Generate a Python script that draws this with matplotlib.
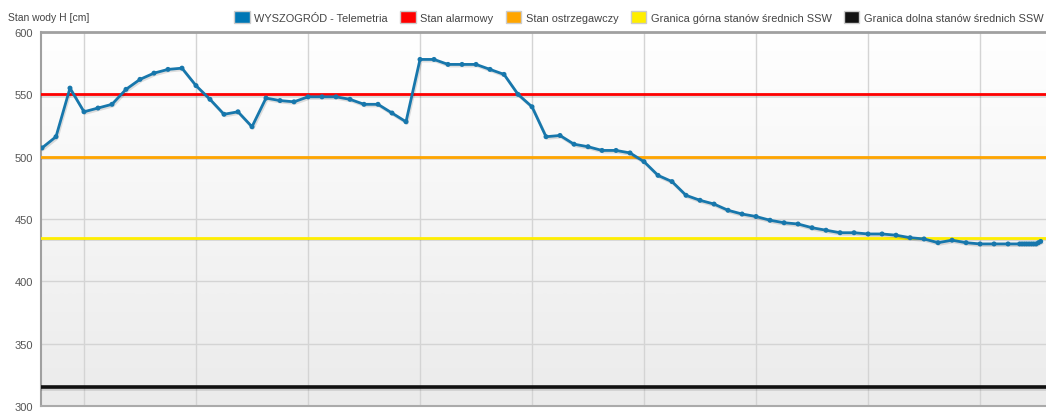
import numpy as np
import matplotlib
matplotlib.use('Agg')
import matplotlib.pyplot as plt
import matplotlib.patheffects as pe
from matplotlib.patches import Rectangle

plt.rcParams['font.family'] = ['Liberation Sans', 'DejaVu Sans']

# hourly readings (index = hour), then the 10-minute readings at the end
level_hourly = [507, 516, 555, 536, 539, 542, 554, 562, 567, 570,
                571, 557, 546, 534, 536, 524, 547, 545, 544, 548,
                548, 548, 546, 542, 542, 535, 528, 578, 578, 574,
                574, 574, 570, 566, 550, 540, 516, 517, 510, 508,
                505, 505, 503, 496, 485, 480, 469, 465, 462, 457,
                454, 452, 449, 447, 446, 443, 441, 439, 439, 438,
                438, 437, 435, 434, 431, 433, 431, 430, 430, 430]
tail_hours = [69.83, 70.0, 70.17, 70.33, 70.5, 70.67, 70.83, 71.0, 71.17, 71.33]
tail_level = [430, 430, 430, 430, 430, 430, 430, 430, 431, 432]

hours = list(range(len(level_hourly))) + tail_hours
level = level_hourly + tail_level

series_name = 'WYSZOGRÓD - Telemetria'
thresholds = [
    ('Stan alarmowy', 550, '#ff0000', 2.0),
    ('Stan ostrzegawczy', 500, '#ffa500', 2.0),
    ('Granica górna stanów średnich SSW', 435, '#ffee00', 2.0),
    ('Granica dolna stanów średnich SSW', 315, '#111111', 2.6),
]
y_ticks = [300, 350, 400, 450, 500, 550, 600]
x_grid = [3, 11, 19, 27, 35, 43, 51, 59, 67]

W, H = 1046, 414
fig = plt.figure(figsize=(W / 100, H / 100), dpi=100)
fig.patch.set_facecolor('white')
ax = fig.add_axes([41 / W, 1 - 407 / H, 1 - 41 / W, (407 - 33) / H])

# background gradient
grad = np.linspace(1.0, 0.0, 256).reshape(-1, 1)
cmap = matplotlib.colors.LinearSegmentedColormap.from_list('bg', ['#ebebeb', '#ffffff'])
ax.imshow(grad, aspect='auto', cmap=cmap, extent=[0, 1, 0, 1], transform=ax.transAxes,
          origin='upper', zorder=0, interpolation='bicubic')

ax.set_xlim(-0.07, 71.71)
ax.set_ylim(300, 600)
ax.set_yticks(y_ticks)
ax.set_xticks(x_grid)
ax.set_xticklabels([])
ax.tick_params(axis='both', length=0)
ax.tick_params(axis='y', pad=6, labelsize=8, labelcolor='#555555')
ax.grid(True, color='#d4d4d4', linewidth=1, zorder=1)

shadow = [pe.SimpleLineShadow(offset=(0.8, -1.2), shadow_color='#000000', alpha=0.12), pe.Normal()]

for name, val, col, lw in thresholds:
    ax.axhline(val, color=col, linewidth=lw, zorder=3, path_effects=shadow)

ax.plot(hours, level, color='#1777ac', linewidth=2.0, marker='o', markersize=3.6,
        markeredgewidth=0, zorder=4, path_effects=shadow)

ax.spines['right'].set_visible(False)
ax.spines['top'].set_color('#a0a0a0')
ax.spines['top'].set_linewidth(2)
ax.spines['left'].set_color('#a0a0a0')
ax.spines['left'].set_linewidth(1.5)
ax.spines['bottom'].set_color('#aaaaaa')
ax.spines['bottom'].set_linewidth(1.5)

fig.text(8 / W, 1 - 18 / H, 'Stan wody H [cm]', fontsize=7.5, color='#444444', va='center')

handles = [Rectangle((0, 0), 1, 1, facecolor='#0077b5', edgecolor='#cccccc', linewidth=1)]
labels = [series_name]
for name, val, col, lw in thresholds:
    handles.append(Rectangle((0, 0), 1, 1, facecolor=col, edgecolor='#cccccc', linewidth=1))
    labels.append(name)
leg = fig.legend(handles, labels, loc='center right', bbox_to_anchor=(1.0, 1 - 18 / H),
                 ncol=5, frameon=False, fontsize=7.9, handlelength=1.4, handleheight=1.2,
                 handletextpad=0.45, columnspacing=1.1, borderaxespad=0, borderpad=0.2)
for t in leg.get_texts():
    t.set_color('#444444')

fig.savefig('out.png', dpi=100)
